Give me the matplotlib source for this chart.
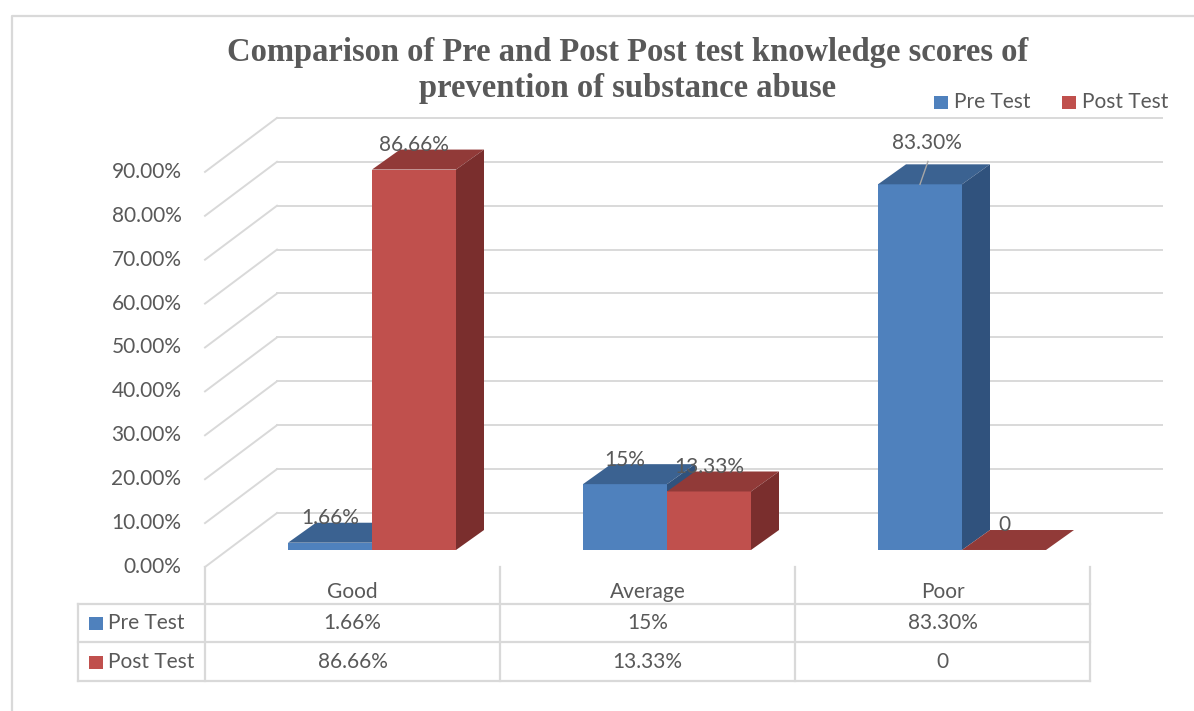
import matplotlib
matplotlib.use("Agg")
import matplotlib.pyplot as plt
from matplotlib.patches import Polygon, Rectangle
from matplotlib.lines import Line2D

# data
categories = ["Good", "Average", "Poor"]
series_names = ["Pre Test", "Post Test"]
pre_test = [1.66, 15.0, 83.30]
post_test = [86.66, 13.33, 0.0]
pre_labels = ["1.66%", "15%", "83.30%"]
post_labels = ["86.66%", "13.33%", "0"]
y_ticks = [0, 10, 20, 30, 40, 50, 60, 70, 80, 90]

# styling
FRONT = ["#4F81BD", "#C0504D"]
TOP = ["#3B6291", "#913A38"]
SIDE = ["#30527D", "#7A2E2D"]
GRID = "#D9D9D9"
TEXT = "#595959"
FONT = "Lato"
FS = 15

W, H = 1194, 711
PX_CAT, PX_PCT = 295.0, 4.39          # pixels per category / per percent
ORIGIN_X, ORIGIN_Y = 352.5, 567.0     # pixel of (Good, 0%) on the front plane
DX, DY = 72 / PX_CAT, 54 / PX_PCT     # full floor depth in data units
D0, T = 0.315, 0.37                   # bar depth start / thickness (fraction)
BAR_W = 84 / PX_CAT
BAR_SHIFT = 19.5 / PX_CAT             # sideways shift of the bar fronts
T_DX = 28 / PX_CAT                    # bar depth, sideways


def fx(px):
    return px / W


def fy(py):
    return 1 - py / H


def vy(py):
    # pixel row -> data y
    return (ORIGIN_Y - py) / PX_PCT


fig = plt.figure(figsize=(W / 100, H / 100), dpi=100)
ax = fig.add_axes([0, 0, 1, 1])
ax.set_xlim(-ORIGIN_X / PX_CAT, (W - ORIGIN_X) / PX_CAT)
ax.set_ylim((ORIGIN_Y - H) / PX_PCT, ORIGIN_Y / PX_PCT)
ax.axis("off")

# chart border
fig.add_artist(Line2D([fx(12), fx(12), fx(W)], [fy(H), fy(16), fy(16)],
                      transform=fig.transFigure, color=GRID, lw=1.6))

# walls: diagonal side lines and back gridlines
left, right = -0.5, len(categories) - 0.5
for v in y_ticks:
    ax.plot([left, left + DX], [v, v + DY], color=GRID, lw=1.4, zorder=1)
    ax.plot([left + DX, right + DX], [v + DY, v + DY], color=GRID, lw=1.4, zorder=1)
    ax.text(left - 0.08, v, f"{v:.2f}%", ha="right", va="center",
            fontsize=FS, color=TEXT, family=FONT)

# 3d-looking bars
for i in range(len(categories)):
    for j, vals in enumerate([pre_test, post_test]):
        val = vals[i]
        xl = i - BAR_W + j * BAR_W + BAR_SHIFT
        yb = D0 * DY
        yt = yb + val
        ax.bar(xl, val, width=BAR_W, bottom=yb, align="edge",
               color=FRONT[j], linewidth=0, zorder=3 + j)
        top = [(xl, yt), (xl + BAR_W, yt),
               (xl + BAR_W + T_DX, yt + T * DY), (xl + T_DX, yt + T * DY)]
        ax.add_patch(Polygon(top, closed=True, color=TOP[j], lw=0, zorder=3 + j))
        if val > 0:
            side = [(xl + BAR_W, yb), (xl + BAR_W + T_DX, yb + T * DY),
                    (xl + BAR_W + T_DX, yt + T * DY), (xl + BAR_W, yt)]
            ax.add_patch(Polygon(side, closed=True, color=SIDE[j], lw=0, zorder=3 + j))

# data labels
for i in range(len(categories)):
    for j, (vals, labs) in enumerate([(pre_test, pre_labels), (post_test, post_labels)]):
        xc = i - BAR_W + j * BAR_W + BAR_SHIFT + BAR_W / 2
        yt = D0 * DY + vals[i]
        if labs[i] == "83.30%":
            ax.plot([xc, xc + 0.027], [yt, yt + 5.2], color="#A6A6A6", lw=1, zorder=6)
            ax.text(xc + 0.025, yt + 9.4, labs[i], ha="center", va="center",
                    fontsize=FS, color=TEXT, family=FONT, zorder=7)
        else:
            ax.text(xc, yt + 5.6, labs[i], ha="center", va="center",
                    fontsize=FS, color=TEXT, family=FONT, zorder=7)

# data table
row_lines = [vy(604), vy(642), vy(681)]
label_left = (78 - ORIGIN_X) / PX_CAT
for k in range(len(categories) + 1):
    ax.plot([k - 0.5, k - 0.5], [0, row_lines[-1]], color=GRID, lw=1.6, clip_on=False)
ax.plot([label_left, label_left], [row_lines[0], row_lines[-1]], color=GRID, lw=1.6)
for r in row_lines:
    ax.plot([label_left, right], [r, r], color=GRID, lw=1.6)

for i, cat in enumerate(categories):
    ax.text(i, vy(592), cat, ha="center", va="center", fontsize=FS, color=TEXT, family=FONT)
    ax.text(i, vy(623), pre_labels[i], ha="center", va="center", fontsize=FS, color=TEXT, family=FONT)
    ax.text(i, vy(662), post_labels[i], ha="center", va="center", fontsize=FS, color=TEXT, family=FONT)

for j, (name, py) in enumerate(zip(series_names, [623, 662])):
    fig.add_artist(Rectangle((fx(89), fy(py + 6.5)), 14 / W, 13 / H,
                             transform=fig.transFigure, color=FRONT[j], lw=0))
    fig.text(fx(108), fy(py), name, ha="left", va="center", fontsize=FS,
             color=TEXT, family=FONT)

# legend
for j, (name, sx) in enumerate(zip(series_names, [934, 1062])):
    fig.add_artist(Rectangle((fx(sx), fy(109)), 14 / W, 13 / H,
                             transform=fig.transFigure, color=FRONT[j], lw=0))
    fig.text(fx(sx + 20), fy(102), name, ha="left", va="center", fontsize=FS,
             color=TEXT, family=FONT)

# title
fig.text(fx(628), fy(52), "Comparison of Pre and Post Post test knowledge scores of",
         ha="center", va="center", fontsize=23.5, fontweight="bold",
         family="Liberation Serif", color=TEXT)
fig.text(fx(628), fy(88), "prevention of substance abuse",
         ha="center", va="center", fontsize=23.5, fontweight="bold",
         family="Liberation Serif", color=TEXT)

fig.savefig("out.png", dpi=100)
